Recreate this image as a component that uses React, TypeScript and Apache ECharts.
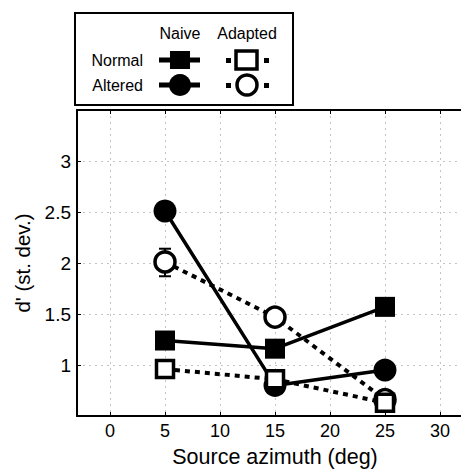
import React, { useEffect, useRef } from "react";
import * as echarts from "echarts";

const azimuths = [5, 15, 25];
const naiveNormal = [1.24, 1.16, 1.57];
const naiveAltered = [2.51, 0.8, 0.95];
const adaptedNormal = [0.96, 0.86, 0.63];
const adaptedAltered = [2.01, 1.47, 0.66];
// error bar (visible one): [x, low, high]
const errorBars = [[5, 1.87, 2.14]];
const xTicks = [0, 5, 10, 15, 20, 25, 30];
const yTicks = [1, 1.5, 2, 2.5, 3];

const FONT = "Liberation Sans, Arial, sans-serif";

export default function App() {
  const ref = useRef<HTMLDivElement>(null);
  useEffect(() => {
    if (!ref.current) return;
    const chart = echarts.init(ref.current, undefined, { renderer: "svg" });
    const pts = (ys: number[]) => azimuths.map((x, i) => [x, ys[i]]);
    const gridLine = { show: true, lineStyle: { color: "#c4c4c4", type: [2, 4], width: 1 } };
    const solid = { color: "#000", width: 3.5 };
    const dotted = { color: "#000", width: 4, type: [5, 5] };
    const option: any = {
      animation: false,
      backgroundColor: "#fff",
      grid: { left: 77, top: 110, bottom: 51, right: 0, show: false },
      xAxis: [
        {
          type: "value",
          min: -3,
          max: 33,
          position: "bottom",
          axisLine: { show: true, onZero: false, lineStyle: { color: "#000", width: 2 } },
          axisTick: { show: true, inside: true, length: 4, customValues: xTicks, lineStyle: { color: "#000" } },
          axisLabel: { customValues: xTicks, color: "#000", fontSize: 18, fontFamily: FONT, margin: 6 },
          splitLine: gridLine,
          name: "Source azimuth (deg)",
          nameLocation: "middle",
          nameGap: 30,
          nameTextStyle: { color: "#000", fontSize: 21.5, fontFamily: FONT },
        },
        {
          type: "value",
          min: -3,
          max: 33,
          position: "top",
          axisLine: { show: true, onZero: false, lineStyle: { color: "#000", width: 2 } },
          axisTick: { show: true, inside: true, length: 4, customValues: xTicks, lineStyle: { color: "#000" } },
          axisLabel: { show: false },
          splitLine: { show: false },
        },
      ],
      yAxis: [
        {
          type: "value",
          min: 0.5,
          max: 3.5,
          interval: 0.5,
          axisLine: { show: true, onZero: false, lineStyle: { color: "#000", width: 2 } },
          axisTick: { show: true, inside: true, length: 4, lineStyle: { color: "#000" } },
          axisLabel: {
            color: "#000",
            fontSize: 19,
            fontFamily: FONT,
            margin: 6,
            formatter: (v: number) => (yTicks.includes(v) ? String(v) : ""),
          },
          splitLine: gridLine,
          name: "d' (st. dev.)",
          nameLocation: "middle",
          nameGap: 44,
          nameTextStyle: { color: "#000", fontSize: 20.5, fontFamily: FONT },
        },
        {
          type: "value",
          min: 0.5,
          max: 3.5,
          interval: 0.5,
          position: "right",
          axisLine: { show: true, onZero: false, lineStyle: { color: "#000", width: 2 } },
          axisTick: { show: false },
          axisLabel: { show: false },
          splitLine: { show: false },
        },
      ],
      series: [
        {
          type: "line",
          data: pts(naiveAltered),
          symbol: "circle",
          symbolSize: 23,
          lineStyle: solid,
          itemStyle: { color: "#000" },
          z: 2,
        },
        {
          type: "line",
          data: pts(naiveNormal),
          symbol: "rect",
          symbolSize: 20,
          lineStyle: solid,
          itemStyle: { color: "#000" },
          z: 2,
        },
        {
          type: "custom",
          data: errorBars,
          z: 3,
          renderItem: (params: any, api: any) => {
            const x = api.value(0);
            const lo = api.coord([x, api.value(1)]);
            const hi = api.coord([x, api.value(2)]);
            const w = 6;
            const st = { stroke: "#000", lineWidth: 2 };
            return {
              type: "group",
              children: [
                { type: "line", shape: { x1: lo[0], y1: lo[1], x2: hi[0], y2: hi[1] }, style: st },
                { type: "line", shape: { x1: lo[0] - w, y1: lo[1], x2: lo[0] + w, y2: lo[1] }, style: st },
                { type: "line", shape: { x1: hi[0] - w, y1: hi[1], x2: hi[0] + w, y2: hi[1] }, style: st },
              ],
            };
          },
        },
        {
          type: "line",
          data: pts(adaptedAltered),
          symbol: "circle",
          symbolSize: 20,
          lineStyle: dotted,
          itemStyle: { color: "#fff", borderColor: "#000", borderWidth: 3.5 },
          z: 4,
        },
        {
          type: "line",
          data: pts(adaptedNormal),
          symbol: "rect",
          symbolSize: 17,
          lineStyle: dotted,
          itemStyle: { color: "#fff", borderColor: "#000", borderWidth: 3.5 },
          z: 4,
        },
      ],
      graphic: [
        { type: "rect", shape: { x: 75, y: 13, width: 218, height: 92 }, style: { fill: "#fff", stroke: "#000", lineWidth: 2 }, z: 10 },
        { type: "text", x: 180, y: 33, style: { text: "Naive", fontSize: 16, fontFamily: FONT, fill: "#000", align: "center", verticalAlign: "middle" }, z: 11 },
        { type: "text", x: 247, y: 33, style: { text: "Adapted", fontSize: 16, fontFamily: FONT, fill: "#000", align: "center", verticalAlign: "middle" }, z: 11 },
        { type: "text", x: 143, y: 60, style: { text: "Normal", fontSize: 16, fontFamily: FONT, fill: "#000", align: "right", verticalAlign: "middle" }, z: 11 },
        { type: "text", x: 143, y: 85, style: { text: "Altered", fontSize: 16, fontFamily: FONT, fill: "#000", align: "right", verticalAlign: "middle" }, z: 11 },
        { type: "line", shape: { x1: 159, y1: 60, x2: 200, y2: 60 }, style: { stroke: "#000", lineWidth: 5 }, z: 11 },
        { type: "rect", shape: { x: 170, y: 51, width: 20, height: 18 }, style: { fill: "#000" }, z: 12 },
        { type: "line", shape: { x1: 159, y1: 85, x2: 200, y2: 85 }, style: { stroke: "#000", lineWidth: 5 }, z: 11 },
        { type: "circle", shape: { cx: 180, cy: 85, r: 11 }, style: { fill: "#000" }, z: 12 },
        { type: "rect", shape: { x: 226, y: 58, width: 5, height: 5 }, style: { fill: "#000" }, z: 11 },
        { type: "rect", shape: { x: 264, y: 58, width: 5, height: 5 }, style: { fill: "#000" }, z: 11 },
        { type: "rect", shape: { x: 236, y: 51, width: 21, height: 18 }, style: { fill: "#fff", stroke: "#000", lineWidth: 3.5 }, z: 12 },
        { type: "rect", shape: { x: 226, y: 83, width: 5, height: 5 }, style: { fill: "#000" }, z: 11 },
        { type: "rect", shape: { x: 264, y: 83, width: 5, height: 5 }, style: { fill: "#000" }, z: 11 },
        { type: "circle", shape: { cx: 247, cy: 85, r: 10 }, style: { fill: "#fff", stroke: "#000", lineWidth: 3.5 }, z: 12 },
      ],
    };
    chart.setOption(option);
    return () => chart.dispose();
  }, []);
  return (
    <div style={{ position: "absolute", left: 0, top: 0, width: 461, height: 473, overflow: "hidden", background: "#fff" }}>
      <div ref={ref} style={{ width: 473, height: 473 }} />
    </div>
  );
}
